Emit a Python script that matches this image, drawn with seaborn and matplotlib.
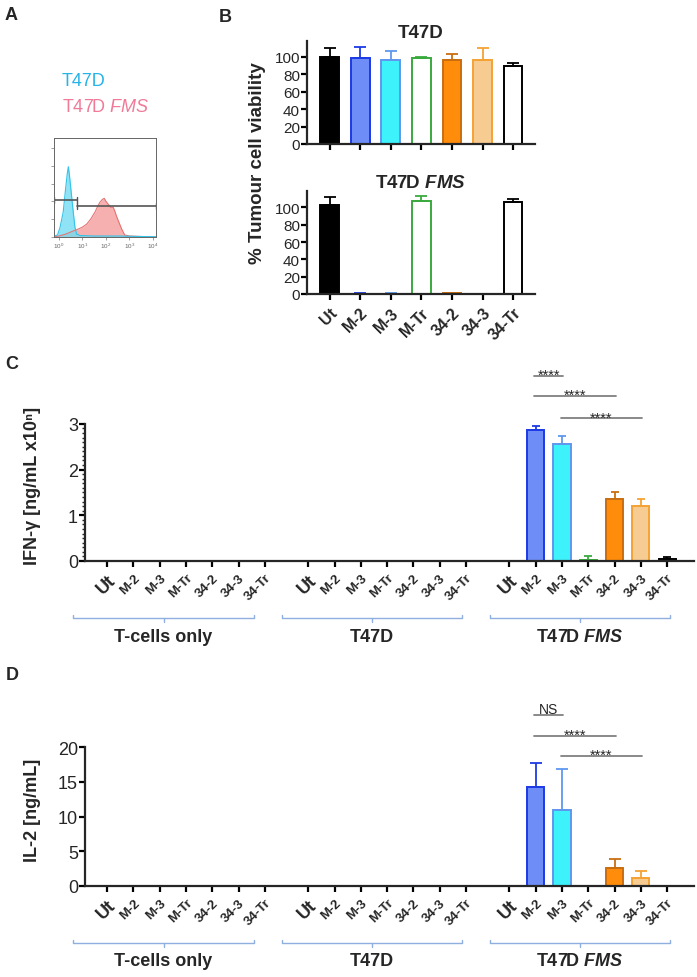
import matplotlib
matplotlib.use('Agg')

import numpy as np
import pandas as pd
import matplotlib.pyplot as plt
import matplotlib.transforms as mtransforms
from matplotlib.ticker import MultipleLocator, FixedLocator
import seaborn as sns

# ---- data ----
conditions = ['Ut', 'M-2', 'M-3', 'M-Tr', '34-2', '34-3', '34-Tr']
groups = ['T-cells only', 'T47D', 'T47D FMS']

fill_colors = {'Ut': '#000000', 'M-2': '#6f8df7', 'M-3': '#3ef2fb', 'M-Tr': '#ffffff',
               '34-2': '#ff8c0a', '34-3': '#f7cc92', '34-Tr': '#ffffff'}
edge_colors = {'Ut': '#000000', 'M-2': '#1c3ae6', 'M-3': '#5f97ee', 'M-Tr': '#3aaa3e',
               '34-2': '#c96e10', '34-3': '#f4a234', '34-Tr': '#000000'}

# panel A: flow histograms (log10 fluorescence, normalised count)
cyan_log = [-0.21, -0.06, 0.05, 0.18, 0.28, 0.36, 0.40, 0.44, 0.51, 0.61, 0.68, 0.75, 0.9, 1.5, 2.5, 3.5, 4.13]
cyan_cnt = [0.01, 0.02, 0.10, 0.25, 0.48, 0.65, 0.71, 0.64, 0.48, 0.25, 0.10, 0.03, 0.015, 0.01, 0.01, 0.005, 0.003]
pink_log = [-0.21, 0.0, 0.3, 0.6, 0.82, 1.0, 1.18, 1.35, 1.53, 1.65, 1.74, 1.85, 1.93, 2.0, 2.1, 2.2,
            2.31, 2.38, 2.45, 2.55, 2.67, 2.8, 3.0, 3.5, 4.13]
pink_cnt = [0.0, 0.01, 0.03, 0.06, 0.08, 0.10, 0.13, 0.18, 0.25, 0.31, 0.35, 0.38, 0.39, 0.36, 0.33, 0.30,
            0.30, 0.26, 0.21, 0.15, 0.08, 0.02, 0.01, 0.005, 0.0]
gate_neg = [-0.21, 0.75, 0.374]
gate_pos = [0.75, 4.13, 0.316]

# panel B: % tumour cell viability
viab_t47d = [100, 98.9, 96.2, 98.5, 96.0, 96.0, 89.7]
viab_t47d_err = [9.6, 11.8, 9.8, 1.0, 7.5, 14.0, 3.1]
viab_fms = [102.6, 0.5, 0.3, 107.6, 0.8, 0.3, 106.5]
viab_fms_err = [8.9, 1.0, 0.3, 5.1, 0.7, 0.2, 3.1]

# panel C: IFN-gamma
ifng = [[0] * 7, [0] * 7, [0, 2.87, 2.57, 0.03, 1.36, 1.20, 0.05]]
ifng_err = [[0] * 7, [0] * 7, [0, 0.08, 0.17, 0.09, 0.14, 0.15, 0.03]]
ifng_sig = [('M-2', 'M-3', 4.05, '****'), ('M-2', '34-2', 3.61, '****'), ('M-3', '34-3', 3.12, '****')]

# panel D: IL-2
il2 = [[0] * 7, [0] * 7, [0, 14.2, 11.0, 0, 2.6, 1.1, 0]]
il2_err = [[0] * 7, [0] * 7, [0, 3.5, 5.9, 0, 1.3, 1.1, 0]]
il2_sig = [('M-2', 'M-3', 24.65, 'NS'), ('M-2', '34-2', 21.6, '****'), ('M-3', '34-3', 18.7, '****')]

# ---- style ----
sns.set_style('ticks')
plt.rcParams['font.family'] = ['Liberation Sans', 'DejaVu Sans']
plt.rcParams['mathtext.fontset'] = 'custom'
plt.rcParams['mathtext.rm'] = 'Liberation Sans'
plt.rcParams['mathtext.it'] = 'Liberation Sans:italic'
plt.rcParams['mathtext.bfit'] = 'Liberation Sans:italic:bold'

W, H = 697, 978
fig = plt.figure(figsize=(W / 100, H / 100), dpi=100)
GROUP_STEP = 7.65


def fix_bars(ax, df, xcol):
    for p in ax.patches:
        c = p.get_x() + p.get_width() / 2
        row = df.iloc[(df[xcol] - c).abs().argmin()]
        p.set_facecolor(fill_colors[row['condition']])
        p.set_edgecolor(edge_colors[row['condition']])
        p.set_linewidth(1.4)


def add_err(ax, df, xcol, cap):
    for _, r in df.iterrows():
        if r['err'] > 0:
            ax.errorbar(r[xcol], r['value'], yerr=[[0], [r['err']]], fmt='none',
                        ecolor=edge_colors[r['condition']], elinewidth=1.3, capsize=cap, capthick=1.3)


def style_axes(ax):
    sns.despine(ax=ax)
    for s in ['left', 'bottom']:
        ax.spines[s].set_linewidth(1.6)
        ax.spines[s].set_zorder(3)
    ax.tick_params(axis='both', width=1.6, length=4, color='black')


# ---- panel A ----
axA = fig.add_axes([54 / W, 1 - 238 / H, 102 / W, 99 / H])
axA.fill_between(pink_log, pink_cnt, color='#f6a3a3', alpha=0.85, lw=0)
sns.lineplot(x=pink_log, y=pink_cnt, color='#e57373', lw=0.8, ax=axA)
axA.fill_between(cyan_log, cyan_cnt, color='#74dcf2', alpha=0.8, lw=0)
sns.lineplot(x=cyan_log, y=cyan_cnt, color='#33c3e8', lw=0.8, ax=axA)
for g in [gate_neg, gate_pos]:
    axA.plot([g[0], g[1]], [g[2], g[2]], color='#555555', lw=1.2)
    axA.plot([g[0], g[0]], [g[2] - 0.03, g[2] + 0.03], color='#555555', lw=1.0)
    axA.plot([g[1], g[1]], [g[2] - 0.03, g[2] + 0.03], color='#555555', lw=1.0)
axA.set_xlim(-0.21, 4.13)
axA.set_ylim(0, 1)
axA.set_xticks(range(5))
axA.set_xticklabels(['$10^{%d}$' % k for k in range(5)], fontsize=4.5, color='#666666')
axA.yaxis.set_major_locator(MultipleLocator(0.18))
axA.set_yticklabels([])
axA.tick_params(length=2, width=0.5, color='#777777', pad=1)
for s in axA.spines.values():
    s.set_linewidth(0.7)
    s.set_color('#666666')
fig.text(62 / W, 1 - 82 / H, 'T47D', color='#26b3e6', fontsize=13, va='center')
fig.text(62 / W, 1 - 107 / H, 'T47D $\\mathit{FMS}$', color='#f07a98', fontsize=13, va='center')

# ---- panel B ----
for k, (vals, errs, title) in enumerate([(viab_t47d, viab_t47d_err, 'T47D'),
                                        (viab_fms, viab_fms_err, 'T47D $\\mathbfit{FMS}$')]):
    top = 145 if k == 0 else 295
    ax = fig.add_axes([307 / W, 1 - top / H, 228 / W, 103 / H])
    dfb = pd.DataFrame({'condition': conditions, 'value': vals, 'err': errs})
    dfb['pos'] = np.arange(len(conditions))
    sns.barplot(data=dfb, x='condition', y='value', hue='condition', order=conditions,
                palette=fill_colors, width=0.62, errorbar=None, legend=False, ax=ax)
    fix_bars(ax, dfb, 'pos')
    add_err(ax, dfb, 'pos', 4.5)
    style_axes(ax)
    ax.set_xlim(-0.75, 6.72)
    ax.set_ylim(0, 118 if k == 0 else 119)
    ax.set_yticks(range(0, 101, 20))
    ax.tick_params(axis='y', labelsize=11, pad=1)
    ax.set_xlabel('')
    ax.set_ylabel('')
    ax.set_title(title, fontsize=13.5, fontweight='bold', pad=3)
    if k == 0:
        ax.set_xticklabels([])
    else:
        ax.set_xticks(range(7))
        ax.set_xticklabels(conditions, rotation=45, ha='right', rotation_mode='anchor',
                           fontsize=11.5, fontweight='bold')
fig.text(257 / W, 1 - 163 / H, '% Tumour cell viability', rotation=90, fontsize=13.5,
         fontweight='bold', ha='center', va='center')


# ---- panels C and D ----
def cytokine(ax, vals, errs, sig, ylim_top, spine_top, step, ylabel, cap):
    rows = []
    for g, grp in enumerate(groups):
        for i, cond in enumerate(conditions):
            rows.append({'group': grp, 'condition': cond, 'pos': g * GROUP_STEP + i,
                         'value': vals[g][i], 'err': errs[g][i]})
    df = pd.DataFrame(rows)
    sns.barplot(data=df, x='pos', y='value', hue='condition', hue_order=conditions,
                palette=fill_colors, native_scale=True, dodge=False, width=0.65,
                errorbar=None, legend=False, ax=ax)
    fix_bars(ax, df, 'pos')
    add_err(ax, df, 'pos', cap)
    style_axes(ax)
    ax.set_xlim(-0.84, 22.32)
    ax.set_ylim(0, ylim_top)
    ax.spines['left'].set_bounds(0, spine_top)
    ax.set_yticks(np.arange(0, spine_top + 0.01, step))
    ax.tick_params(axis='y', labelsize=13, pad=1)
    ax.set_xticks(df['pos'])
    ax.set_xticklabels(df['condition'], rotation=45, ha='right', rotation_mode='anchor', fontweight='bold')
    for lbl in ax.get_xticklabels():
        lbl.set_fontsize(13 if lbl.get_text() == 'Ut' else 9.5)
    ax.set_xlabel('')
    ax.set_ylabel(ylabel, fontsize=13, fontweight='bold')
    ax.yaxis.set_label_coords(-0.072, spine_top / 2 / ylim_top + 0.04)

    # group brackets
    hpx = ax.bbox.height
    tr = mtransforms.blended_transform_factory(ax.transData, ax.transAxes)
    for g, grp in enumerate(groups):
        x0 = g * GROUP_STEP
        left, right = x0 - 1.29 + 0.28 * g, x0 + 5.59 + 0.26 * g
        mid = (left + right) / 2
        yb = -57 / hpx
        ax.plot([left, left, right, right], [yb + 3 / hpx, yb, yb, yb + 3 / hpx], transform=tr,
                color='#8fb0de', lw=1.0, clip_on=False)
        ax.plot([mid, mid], [yb, yb - 4 / hpx], transform=tr, color='#8fb0de', lw=1.0, clip_on=False)
        label = 'T47D $\\mathbfit{FMS}$' if grp == 'T47D FMS' else grp
        ax.text(mid, -75 / hpx, label, transform=tr, ha='center', va='center',
                fontsize=13, fontweight='bold')

    # significance lines
    upx = ylim_top / hpx
    fms0 = 2 * GROUP_STEP
    for a, b, y, txt in sig:
        xa = fms0 + conditions.index(a) - 0.05
        xb = fms0 + conditions.index(b) + 0.05
        ax.plot([xa, xb], [y, y], color='#808080', lw=1.3, clip_on=False)
        if txt == 'NS':
            ax.text((xa + xb) / 2, y + 2 * upx, txt, ha='center', va='baseline', fontsize=10)
        else:
            ax.text((xa + xb) / 2, y - 3 * upx, txt, ha='center', va='baseline', fontsize=10.5)


axC = fig.add_axes([85 / W, 1 - 562 / H, 609 / W, 196.5 / H])
cytokine(axC, ifng, ifng_err, ifng_sig, 4.3, 3, 1, 'IFN-γ [ng/mL x10ⁿ]', 3)
axC.yaxis.set_minor_locator(FixedLocator(np.arange(0, 3.001, 0.1)))
axC.tick_params(axis='y', which='minor', length=2, width=1.0)

axD = fig.add_axes([85 / W, 1 - 887 / H, 609 / W, 187.6 / H])
cytokine(axD, il2, il2_err, il2_sig, 27, 20, 5, 'IL-2 [ng/mL]', 4)

# panel letters
for letter, x, y in [('A', 11, 16), ('B', 225, 17), ('C', 12, 365), ('D', 12, 676)]:
    fig.text(x / W, 1 - y / H, letter, fontsize=13, fontweight='bold', ha='center', va='center')

fig.savefig('out.png', dpi=100)
